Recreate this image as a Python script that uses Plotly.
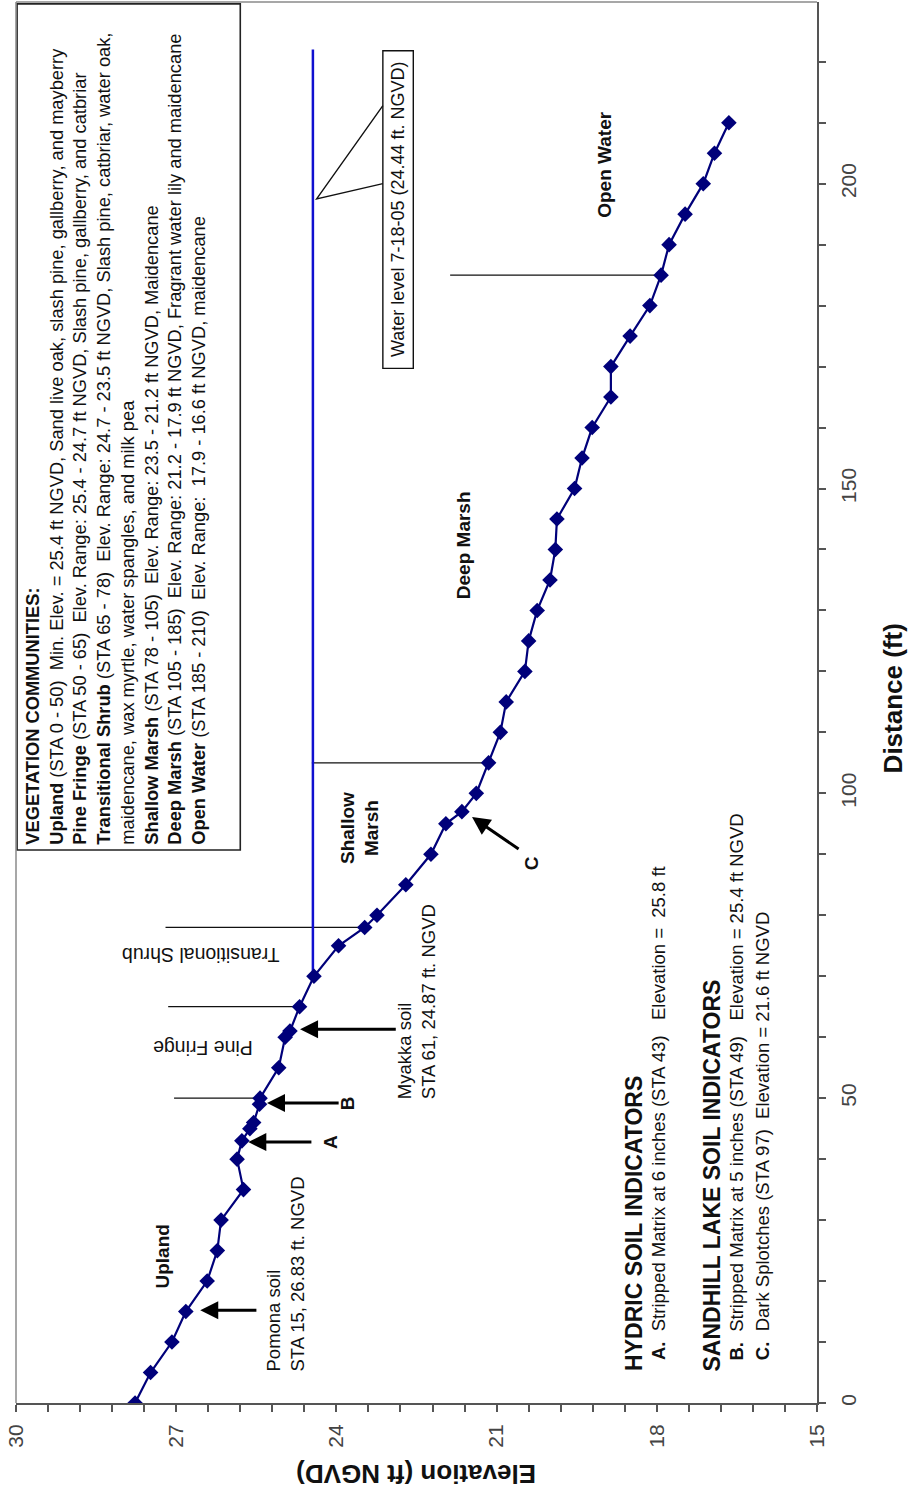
import numpy as np
import plotly.graph_objects as go

# ---------------- data ----------------
distance_ft = [0, 5, 10, 15, 20, 25, 30, 35, 40, 43, 45, 46, 49, 50, 55, 60, 61, 65, 70, 75,
               78, 80, 85, 90, 95, 97, 100, 105, 110, 115, 120, 125, 130, 135, 140, 145,
               150, 155, 160, 165, 170, 175, 180, 185, 190, 195, 200, 205, 210]
elevation_ft = [27.77, 27.48, 27.08, 26.82, 26.42, 26.23, 26.16, 25.74, 25.86, 25.77, 25.62,
                25.55, 25.44, 25.43, 25.08, 24.96, 24.87, 24.69, 24.42, 23.96, 23.47, 23.24,
                22.70, 22.23, 21.95, 21.65, 21.38, 21.15, 20.93, 20.82, 20.47, 20.40, 20.24,
                20.00, 19.90, 19.87, 19.54, 19.40, 19.21, 18.86, 18.86, 18.50, 18.13, 17.92,
                17.77, 17.47, 17.13, 16.92, 16.65]

water_level = 24.44
water_extent = [69.5, 222.0]

zone_stations = [50, 65, 78, 105, 185]
zone_line_top = [27.04, 27.15, 27.20, 24.46, 21.87]

elev_ticks = [30, 27, 24, 21, 18, 15]
dist_ticks = [0, 50, 100, 150, 200]

FONT = "Liberation Sans, Arial, sans-serif"
NAVY = "#00007a"

fig = go.Figure()

# zone boundary lines
for sta, top in zip(zone_stations, zone_line_top):
    bottom = float(np.interp(sta, distance_ft, elevation_ft))
    fig.add_trace(go.Scatter(x=[top, bottom], y=[sta, sta], mode="lines",
                             line=dict(color="#111111", width=1.2), hoverinfo="skip",
                             showlegend=False))

# water level
fig.add_trace(go.Scatter(x=[water_level, water_level], y=water_extent, mode="lines",
                         line=dict(color="#1010d0", width=2.5), hoverinfo="skip",
                         showlegend=False))

# profile
fig.add_trace(go.Scatter(x=elevation_ft, y=distance_ft, mode="lines+markers",
                         line=dict(color=NAVY, width=2.2),
                         marker=dict(symbol="diamond", size=12, color=NAVY,
                                     line=dict(color=NAVY, width=0)),
                         showlegend=False))

shapes = []
# vegetation box
shapes.append(dict(type="rect", xref="x", yref="y", x0=29.98, x1=25.80, y0=90.7, y1=229.5,
                   line=dict(color="#222222", width=1.6), fillcolor="white", layer="below"))
# water level callout box and wedge
shapes.append(dict(type="rect", xref="x", yref="y", x0=23.13, x1=22.56, y0=169.7, y1=221.8,
                   line=dict(color="#111111", width=1.4), fillcolor="white"))
shapes.append(dict(type="path", xref="x", yref="y",
                   path="M 23.13,212.8 L 24.37,197.5 L 23.13,200.0",
                   line=dict(color="#111111", width=1.4)))
# plot border top / left
shapes.append(dict(type="line", xref="paper", yref="paper", x0=0, x1=1, y0=1, y1=1,
                   line=dict(color="#8a8a8a", width=1.5)))
shapes.append(dict(type="line", xref="paper", yref="paper", x0=0, x1=0, y0=0, y1=1,
                   line=dict(color="#8a8a8a", width=1.5)))

ann = []

def txt(x, y, text, size=18.5, angle=-90, bold=False, xa="center", ya="middle", align="left",
        color="#111111"):
    if bold:
        text = "<b>" + text + "</b>"
    ann.append(dict(x=x, y=y, xref="x", yref="y", text=text, showarrow=False,
                    textangle=angle, xanchor=xa, yanchor=ya, align=align,
                    font=dict(family=FONT, size=size, color=color)))

veg_lines = [
    "<b>VEGETATION COMMUNITIES:</b>",
    "<b>Upland</b> (STA 0 - 50)  Min. Elev. = 25.4 ft NGVD, Sand live oak, slash pine, gallberry, and mayberry",
    "<b>Pine Fringe</b> (STA 50 - 65)  Elev. Range: 25.4 - 24.7 ft NGVD, Slash pine, gallberry, and catbriar",
    "<b>Transitional Shrub</b> (STA 65 - 78)  Elev. Range: 24.7 - 23.5 ft NGVD, Slash pine, catbriar, water oak,",
    "maidencane, wax myrtle, water spangles, and milk pea",
    "<b>Shallow Marsh</b> (STA 78 - 105)  Elev. Range: 23.5 - 21.2 ft NGVD, Maidencane",
    "<b>Deep Marsh</b> (STA 105 - 185)  Elev. Range: 21.2 - 17.9 ft NGVD, Fragrant water lily and maidencane",
    "<b>Open Water</b> (STA 185 - 210)  Elev. Range:  17.9 - 16.6 ft NGVD, maidencane",
]
ann.append(dict(x=29.93, y=91.2, xref="x", yref="y", text="<br>".join(veg_lines),
                showarrow=False, textangle=-90, xanchor="left", yanchor="bottom",
                align="left", font=dict(family=FONT, size=18.3, color="#111111")))

# zone labels
txt(27.25, 24.0, "Upland", size=19, bold=True)
txt(26.50, 58.2, "Pine Fringe", size=19.5, angle=180)
txt(26.55, 73.4, "Transitional Shrub", size=19.5, angle=180)
txt(23.56, 94.3, "Shallow<br>Marsh", size=19, bold=True, align="center")
txt(21.63, 140.7, "Deep Marsh", size=19, bold=True)
txt(18.97, 203.1, "Open Water", size=19, bold=True)

# soil notes
txt(24.96, 21.1, "Pomona soil<br>STA 15, 26.83 ft. NGVD", size=18.5)
txt(22.51, 65.9, "Myakka soil<br>STA 61, 24.87 ft. NGVD", size=18.5)
txt(22.845, 195.7, "Water level 7-18-05 (24.44 ft. NGVD)", size=18)

txt(24.12, 42.8, "A", size=19, bold=True)
txt(23.80, 49.2, "B", size=19, bold=True)
txt(20.34, 88.5, "C", size=19, bold=True)

# indicator block
txt(18.44, 4.9, "HYDRIC SOIL INDICATORS", size=23, bold=True, ya="bottom")
txt(17.98, 6.7, "<b>A.</b>  Stripped Matrix at 6 inches (STA 43)   Elevation =  25.8 ft",
    size=18.5, ya="bottom")
txt(16.96, 4.9, "SANDHILL LAKE SOIL INDICATORS", size=23, bold=True, ya="bottom")
txt(16.50, 6.7, "<b>B.</b>  Stripped Matrix at 5 inches (STA 49)   Elevation = 25.4 ft NGVD",
    size=18.5, ya="bottom")
txt(16.03, 6.7, "<b>C.</b>  Dark Splotches (STA 97)  Elevation = 21.6 ft NGVD",
    size=18.5, ya="bottom")

# arrows (tail -> head)
arrows = [
    ((25.47, 15.2), (26.55, 15.2)),
    ((24.44, 42.8), (25.65, 42.8)),
    ((23.93, 49.2), (25.30, 49.2)),
    ((22.86, 61.3), (24.68, 61.3)),
    ((20.56, 90.7), (21.46, 96.1)),
]
for (tx, ty), (hx, hy) in arrows:
    ann.append(dict(x=hx, y=hy, ax=tx, ay=ty, xref="x", yref="y", axref="x", ayref="y",
                    text="", showarrow=True, arrowhead=2, arrowsize=1.2, arrowwidth=3,
                    arrowcolor="#000000", standoff=0))

# axis titles
ann.append(dict(x=0.5, y=-0.0507, xref="paper", yref="paper", text="<b>Elevation (ft NGVD)</b>",
                showarrow=False, textangle=180, xanchor="center", yanchor="middle",
                font=dict(family=FONT, size=26, color="#111111")))
ann.append(dict(x=1.095, y=0.503, xref="paper", yref="paper", text="<b>Distance (ft)</b>",
                showarrow=False, textangle=-90, xanchor="center", yanchor="middle",
                font=dict(family=FONT, size=26, color="#111111")))

fig.update_layout(
    width=909, height=1492,
    margin=dict(l=16, r=92, t=2, b=89, autoexpand=False),
    paper_bgcolor="white", plot_bgcolor="white",
    showlegend=False,
    shapes=shapes, annotations=ann,
    xaxis=dict(range=[30, 15], tickvals=elev_ticks, ticktext=[str(v) for v in elev_ticks],
               tickangle=-90, ticks="outside", ticklen=7, tickwidth=1.5, tickcolor="#555555",
               minor=dict(dtick=0.6, tick0=15, ticks="outside", ticklen=7, tickwidth=1.5,
                          tickcolor="#555555"),
               showline=True, linecolor="#555555", linewidth=2, showgrid=False, zeroline=False,
               tickfont=dict(family=FONT, size=21, color="#444444"), ticklabelstandoff=4,
               automargin=False),
    yaxis=dict(range=[0, 229.8], side="right", tickvals=dist_ticks,
               ticktext=[str(v) for v in dist_ticks],
               tickangle=-90, ticks="outside", ticklen=7, tickwidth=1.5, tickcolor="#555555",
               minor=dict(dtick=10, tick0=0, ticks="outside", ticklen=7, tickwidth=1.5,
                          tickcolor="#555555"),
               showline=True, linecolor="#555555", linewidth=2, showgrid=False, zeroline=False,
               tickfont=dict(family=FONT, size=21, color="#444444"), ticklabelstandoff=5,
               automargin=False),
)

fig.write_html("out.html", config={"displayModeBar": False},
               post_script="document.body.style.margin='0px';document.body.style.padding='0px';")
